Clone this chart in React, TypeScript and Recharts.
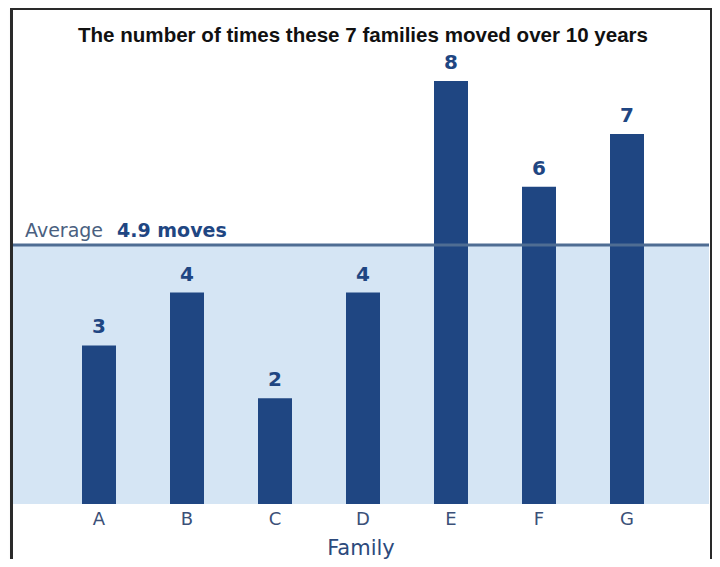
import React from 'react';
import { BarChart, Bar, XAxis, YAxis, ReferenceArea, ReferenceLine, LabelList } from 'recharts';

const families = ['A', 'B', 'C', 'D', 'E', 'F', 'G'];
const moves = [3, 4, 2, 4, 8, 6, 7];
const averageMoves = 4.9;
const yDomain = [0, 8];

const data = families.map((family, i) => ({ family, moves: moves[i] }));

const NAVY = '#1f4682';
const SHADE = '#d5e5f4';
const AVG_LINE = '#4f6d93';
const FONT = '"DejaVu Sans", sans-serif';

// plot area edges (inside the frame)
const PLOT_LEFT = 13;
const PLOT_RIGHT = 709;

// shaded band runs across the whole plot, not just the padded band range
const ShadeRect = (props: any) => {
  const { y, height } = props;
  return <rect x={PLOT_LEFT} y={y} width={PLOT_RIGHT - PLOT_LEFT} height={height} fill={SHADE} />;
};

const AverageLabel = (props: any) => {
  const { viewBox } = props;
  if (!viewBox) return null;
  return (
    <text x={viewBox.x + 12} y={viewBox.y - 8} fontFamily={FONT} fontSize={19} textAnchor="start">
      <tspan fill="#4a5f80">Average</tspan>
      <tspan dx={14} fill={NAVY} fontWeight="bold">{`${averageMoves} moves`}</tspan>
    </text>
  );
};

const App: React.FC = () => {
  return (
    <div style={{ position: 'relative', width: 720, height: 567, margin: -8, background: '#fff', overflow: 'hidden' }}>
      <div
        style={{
          position: 'absolute',
          left: 10,
          top: 7,
          width: 697,
          height: 560,
          border: '3px solid #2a2a2a',
          borderBottom: '2px solid #c8c8c8',
          boxShadow: '4px 2px 5px rgba(0,0,0,0.35)',
          background: '#fff',
        }}
      />
      <svg width={720} height={60} style={{ position: 'absolute', left: 0, top: 0 }}>
        <text
          x={363}
          y={42}
          textAnchor="middle"
          fontFamily='"Liberation Sans", Arial, sans-serif'
          fontWeight="bold"
          fontSize={21}
          textLength={570}
          lengthAdjust="spacingAndGlyphs"
          fill="#111"
        >
          The number of times these 7 families moved over 10 years
        </text>
      </svg>
      <div style={{ position: 'absolute', left: 0, top: 0 }}>
        <BarChart width={720} height={567} data={data} margin={{ top: 81, right: 720 - PLOT_RIGHT, bottom: 0, left: PLOT_LEFT }}>
          <ReferenceArea y1={0} y2={averageMoves} shape={<ShadeRect />} ifOverflow="visible" />
          <XAxis
            dataKey="family"
            height={63}
            axisLine={false}
            tickLine={false}
            padding={{ left: 42, right: 38 }}
            tick={{ fill: '#3b5078', fontSize: 18, fontFamily: FONT }}
            label={{ value: 'Family', position: 'insideBottom', offset: 12, fill: '#2c4a7c', fontSize: 21, fontFamily: FONT }}
          />
          <YAxis hide domain={yDomain} />
          <Bar dataKey="moves" fill={NAVY} barSize={34} isAnimationActive={false}>
            <LabelList dataKey="moves" position="top" offset={12} fill={NAVY} fontSize={20} fontWeight="bold" fontFamily={FONT} />
          </Bar>
          <ReferenceLine y={averageMoves} stroke={AVG_LINE} strokeWidth={3} label={<AverageLabel />} />
        </BarChart>
      </div>
    </div>
  );
};

export default App;
